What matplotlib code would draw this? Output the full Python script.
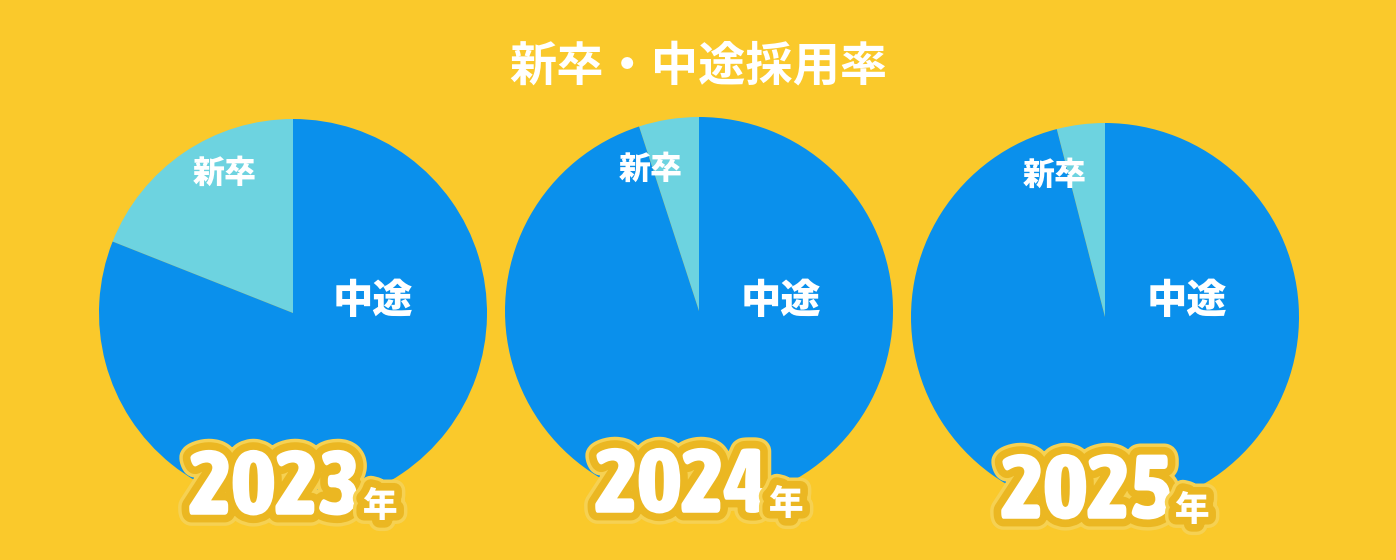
import matplotlib
matplotlib.use("Agg")
import matplotlib.pyplot as plt
import matplotlib.patheffects as pe
from matplotlib import font_manager as fm

# ---- data ----
years = ["2023", "2024", "2025"]
new_grad = [19, 5, 4]          # 新卒 (%)
mid_career = [81, 95, 96]      # 中途 (%)
slice_labels = ["新卒", "中途"]
title = "新卒・中途採用率"
year_suffix = "年"

# ---- style ----
BG = "#FAC92B"
BLUE = "#0A90EC"
CYAN = "#6DD3E0"
RING = "#EBB722"
GLOW = "#F6D152"
CJK = ["Noto Sans CJK JP", "DejaVu Sans"]


def _w(f):
    w = f.weight
    if isinstance(w, str):
        w = {"normal": 400, "regular": 400, "medium": 500, "semibold": 600,
             "demibold": 600, "bold": 700, "extra bold": 800, "heavy": 800,
             "black": 900}.get(w.lower(), 400)
    return w


def pick_digit_font():
    rank = {"ultra-condensed": 0, "extra-condensed": 1, "condensed": 2,
            "semi-condensed": 3}
    best = None
    for f in fm.fontManager.ttflist:
        st = str(f.stretch).lower()
        fn = f.fname.lower()
        if "italic" in fn or f.style != "normal":
            continue
        if st in rank:
            r = rank[st]
        elif "narrow" in fn or "condensed" in fn:
            r = 2
        else:
            continue
        if _w(f) < 700:
            continue
        key = (r, -_w(f))
        if best is None or key < best[0]:
            best = (key, f)
    if best is not None:
        return fm.FontProperties(fname=best[1].fname)
    return fm.FontProperties(family=["Roboto", "DejaVu Sans"], weight="black")


DIGIT_FP = pick_digit_font()

W, H = 1396, 560
fig = plt.figure(figsize=(W / 100, H / 100), dpi=100, facecolor=BG)

centres = [(293, 313), (699, 311), (1105, 317)]
R = 194
new_pos = [(-0.35, 0.72), (-0.25, 0.73), (-0.26, 0.73)]
mid_pos = [(0.41, 0.06), (0.42, 0.05), (0.42, 0.08)]

effects = [pe.Stroke(linewidth=16, foreground=GLOW),
           pe.Stroke(linewidth=11, foreground=RING),
           pe.Normal()]

# size the digits so "2023" is about 175 px wide and at most ~62 px tall
renderer = fig.canvas.get_renderer()
probe = fig.text(0, 0, years[0], fontproperties=DIGIT_FP, fontsize=62)
wpx = probe.get_window_extent(renderer).width
probe.remove()
digit_fs = min(66, 62 * 175 / wpx)

for i, (cx, cy) in enumerate(centres):
    ax = fig.add_axes([(cx - R) / W, (H - cy - R) / H, 2 * R / W, 2 * R / H])
    ax.set_facecolor("none")
    ax.pie([new_grad[i], mid_career[i]], colors=[CYAN, BLUE], startangle=90,
           counterclock=True, radius=1, wedgeprops=dict(linewidth=0))
    ax.set_xlim(-1, 1)
    ax.set_ylim(-1, 1)
    ax.set_aspect("equal")
    ax.axis("off")
    ax.text(*new_pos[i], slice_labels[0], ha="center", va="center",
            fontsize=23, fontweight="heavy", color="white", family=CJK)
    ax.text(*mid_pos[i], slice_labels[1], ha="center", va="center",
            fontsize=29, fontweight="heavy", color="white", family=CJK)
    t = ax.text(0.35, -1.04, years[i], ha="right", va="baseline",
                fontproperties=DIGIT_FP, color="white",
                path_effects=effects, clip_on=False, zorder=5)
    t.set_fontsize(digit_fs)
    ax.text(0.36, -1.05, year_suffix, ha="left", va="baseline",
            fontsize=25, fontweight="heavy", color="white", family=CJK,
            path_effects=effects, clip_on=False, zorder=5)

fig.text(0.5, 1 - 66 / H, title, ha="center", va="center", fontsize=34,
         fontweight="bold", color="white", family=CJK)

fig.savefig("out.png", dpi=100, facecolor=BG)
